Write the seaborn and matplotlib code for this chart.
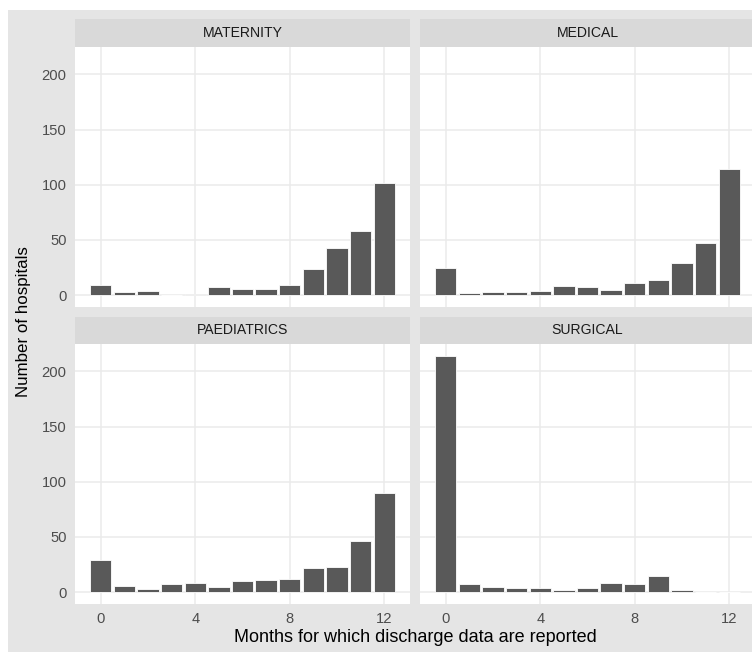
import numpy as np
import pandas as pd
import matplotlib
matplotlib.use('Agg')
import matplotlib.pyplot as plt
import seaborn as sns
from matplotlib.patches import Rectangle

# months of discharge data reported (0..12)
months = list(range(13))
wards = ['MATERNITY', 'MEDICAL', 'PAEDIATRICS', 'SURGICAL']

maternity = [9, 3, 4, 0, 1, 7, 6, 6, 9, 24, 43, 58, 102]
medical = [25, 2, 3, 3, 4, 8, 7, 5, 11, 14, 29, 47, 114]
paediatrics = [29, 6, 3, 7, 8, 5, 10, 11, 12, 22, 23, 46, 90]
surgical = [214, 7, 5, 4, 4, 2, 4, 8, 7, 15, 2, 0, 0]

counts = {'MATERNITY': maternity, 'MEDICAL': medical,
          'PAEDIATRICS': paediatrics, 'SURGICAL': surgical}

df = pd.concat([pd.DataFrame({'ward': w, 'months': months, 'n': counts[w]})
                for w in wards], ignore_index=True)

sns.set_style('white')
plt.rcParams['font.family'] = ['Liberation Sans', 'DejaVu Sans']

W, H = 752, 652
fig = plt.figure(figsize=(W / 100, H / 100), dpi=100)
fig.patch.set_facecolor('white')

# grey plot background (image is a crop of it)
fig.patches.append(Rectangle((8 / W, 0), 1, 1 - 10 / H, transform=fig.transFigure,
                             facecolor='#E5E5E5', edgecolor='none', zorder=-10))

# panel boxes in pixel coordinates: left, top
panel_pos = {'MATERNITY': (75, 47), 'MEDICAL': (420, 47),
             'PAEDIATRICS': (75, 344), 'SURGICAL': (420, 344)}
pw, ph = 335, 260
strip_h = {47: 28, 344: 27}

for w in wards:
    x0, y0 = panel_pos[w]
    ax = fig.add_axes([x0 / W, (H - y0 - ph) / H, pw / W, ph / H])
    sub = df[df['ward'] == w]
    sns.barplot(data=sub, x='months', y='n', native_scale=True, width=0.9,
                color='#595959', saturation=1, edgecolor='white', linewidth=0.6,
                errorbar=None, ax=ax, zorder=3)
    ax.set_facecolor('white')
    ax.set_xlim(-1.095, 13.095)
    ax.set_ylim(-10.7, 224.7)
    ax.set_xticks([0, 4, 8, 12])
    ax.set_yticks([0, 50, 100, 150, 200])
    ax.grid(True, color='#EBEBEB', linewidth=1.1, zorder=0)
    ax.set_axisbelow(True)
    for s in ax.spines.values():
        s.set_visible(False)
    ax.set_xlabel('')
    ax.set_ylabel('')
    ax.tick_params(axis='both', length=3.5, width=1, color='#333333',
                   labelcolor='#4D4D4D', labelsize=10.6, pad=2.5)
    if x0 != 75:
        ax.tick_params(axis='y', left=False, labelleft=False)
    if y0 == 47:
        ax.tick_params(axis='x', bottom=False, labelbottom=False)

    # facet strip
    sh = strip_h[y0]
    sax = fig.add_axes([x0 / W, (H - y0) / H, pw / W, sh / H])
    sax.set_facecolor('#D9D9D9')
    sax.set_xticks([])
    sax.set_yticks([])
    for s in sax.spines.values():
        s.set_visible(False)
    sax.text(0.5, 0.5, w, ha='center', va='center', fontsize=10.1,
             color='#1A1A1A', transform=sax.transAxes)

fig.text(415 / W, 1 - 638 / H, 'Months for which discharge data are reported',
         ha='center', va='center', fontsize=13, color='black')
fig.text(24 / W, 1 - 322 / H, 'Number of hospitals', rotation=90,
         ha='center', va='center', fontsize=12.2, color='black')

fig.savefig('out.png', dpi=100)
